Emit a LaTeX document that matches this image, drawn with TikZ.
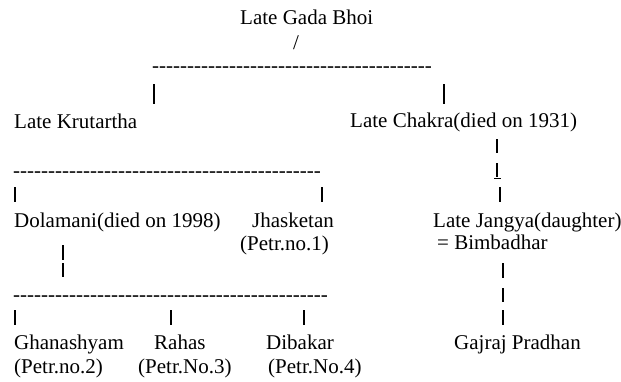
\documentclass[tikz,border=0pt]{standalone}
\usepackage{fontspec}
\setmainfont{Liberation Serif}
\newcommand{\hyrow}[1]{\foreach \k in {1,...,#1}{-\kern0pt}}
\begin{document}
\begin{tikzpicture}[x=1pt,y=-1pt,
  txt/.style={anchor=base west, inner sep=0pt, font=\fontsize{21}{25}\selectfont},
  thickbar/.style={line width=2.2pt},
  thinbar/.style={line width=1.3pt}]
\useasboundingbox (0,0) rectangle (621,381);
% row texts
\node[txt] (gb) at (240,24) {Late Gada Bhoi};
\node[txt] (sl) at (293,49) {/};
\node[txt] (d1) at (152,72) {\hyrow{40}};
\node[txt] (kr) at (14,128) {Late Krutartha};
\node[txt] (ch) at (350,127) {Late Chakra(died on 1931)};
\node[txt] (d2) at (13,177) {\hyrow{44}};
\node[txt] (dol) at (14,227) {Dolamani(died on 1998)};
\node[txt] (jh) at (252,227) {Jhasketan};
\node[txt] (jy) at (433,227) {Late Jangya(daughter)};
\node[txt] (p1) at (240,250) {(Petr.no.1)};
\node[txt] (bim) at (437,249) {= Bimbadhar};
\node[txt] (d3) at (13,301) {\hyrow{45}};
\node[txt] (gh) at (14,349) {Ghanashyam};
\node[txt] (ra) at (154,349) {Rahas};
\node[txt] (di) at (266,349) {Dibakar};
\node[txt] (gp) at (454,349) {Gajraj Pradhan};
\node[txt] (p2) at (14,373) {(Petr.no.2)};
\node[txt] (p3) at (138,373) {(Petr.No.3)};
\node[txt] (p4) at (268,373) {(Petr.No.4)};
% bars
\draw[thickbar] (154,84) -- (154,104);
\draw[thickbar] (444,84) -- (444,104);
\draw[thickbar] (497,139) -- (497,153);
\draw[thinbar] (497,163) -- (497,177);
\draw[line width=0.8pt] (494,178.5) -- (501,178.5);
\draw[thickbar] (15,187) -- (15,202);
\draw[thickbar] (322,187) -- (322,202);
\draw[thickbar] (500,187) -- (500,202);
\draw[thinbar] (63,245) -- (63,260);
\draw[thinbar] (63,263) -- (63,277);
\draw[thickbar] (503,263) -- (503,278);
\draw[thickbar] (503,288) -- (503,302);
\draw[thickbar] (15,310) -- (15,325);
\draw[thickbar] (171,310) -- (171,325);
\draw[thickbar] (304,310) -- (304,325);
\draw[thickbar] (503,310) -- (503,325);
\end{tikzpicture}
\end{document}
